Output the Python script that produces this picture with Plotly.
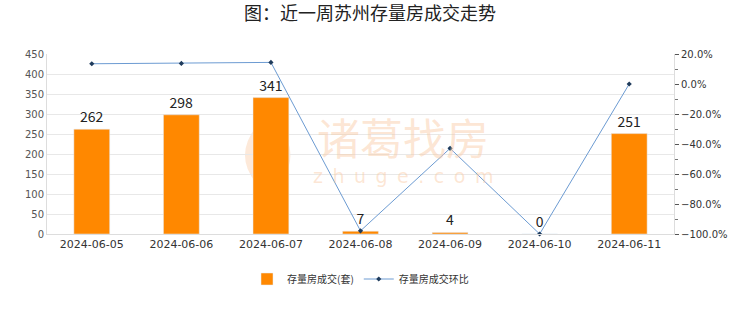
import plotly.graph_objects as go

dates = ["2024-06-05", "2024-06-06", "2024-06-07", "2024-06-08", "2024-06-09", "2024-06-10", "2024-06-11"]
volume = [262, 298, 341, 7, 4, 0, 251]
mom_pct = [13.5, 13.7, 14.4, -97.9, -42.9, -100.0, 0.0]

title_text = "图：近一周苏州存量房成交走势"
bar_name = "存量房成交(套)"
line_name = "存量房成交环比"

font_cjk = "Noto Sans CJK SC, sans-serif"
wm_color = "rgba(250,200,160,0.45)"

fig = go.Figure()
fig.add_trace(go.Bar(
    x=dates, y=volume, name=bar_name,
    marker=dict(color="#FF8800"),
    text=[str(v) for v in volume], textposition="outside",
    textfont=dict(size=14, color="#222222", family=font_cjk),
    cliponaxis=False,
))
fig.add_trace(go.Scatter(
    x=dates, y=mom_pct, name=line_name, yaxis="y2",
    mode="lines+markers",
    line=dict(color="#6C9BD2", width=1),
    marker=dict(symbol="diamond", size=4, color="#1F3B5C"),
    cliponaxis=False,
))

# watermark
fig.add_annotation(text="诸葛找房", x=0.567, y=0.545, xref="paper", yref="paper",
                   showarrow=False, font=dict(size=43, color=wm_color, family=font_cjk))
fig.add_annotation(text="\u2002".join("zhuge.com"), x=0.567, y=0.25, xref="paper", yref="paper",
                   showarrow=False, font=dict(size=19, color=wm_color, family="DejaVu Sans"))
logo_paths = [
    "M 0.345,0.64 Q 0.285,0.43 0.348,0.23 Q 0.312,0.43 0.345,0.64 Z",
    "M 0.359,0.64 Q 0.419,0.43 0.356,0.23 Q 0.392,0.43 0.359,0.64 Z",
    "M 0.352,0.56 Q 0.335,0.40 0.352,0.26 Q 0.369,0.40 0.352,0.56 Z",
]
for p in logo_paths:
    fig.add_shape(type="path", path=p, xref="paper", yref="paper",
                  fillcolor="rgba(250,200,160,0.4)", line=dict(width=0), layer="below")

fig.update_layout(
    width=740, height=312,
    margin=dict(l=47, r=62, t=54, b=78),
    paper_bgcolor="white", plot_bgcolor="white",
    title=dict(text=title_text, x=0.5, xanchor="center", y=0.955, yanchor="middle",
               font=dict(size=18, color="#222222", family=font_cjk)),
    font=dict(family=font_cjk),
    showlegend=True,
    legend=dict(orientation="h", x=0.5, xanchor="center", y=-0.25, yanchor="middle",
                font=dict(size=10, color="#333333", family=font_cjk)),
    bargap=0.6,
    xaxis=dict(type="category", showline=True, linecolor="#DDDDDD", ticks="",
               tickfont=dict(size=11, color="#333333", family="DejaVu Sans"),
               showgrid=False),
    yaxis=dict(range=[0, 450], dtick=50, showline=True, linecolor="#DDDDDD",
               gridcolor="#E8E8E8", tickfont=dict(size=10, color="#555555", family="DejaVu Sans"),
               zeroline=False),
    yaxis2=dict(range=[-100, 20], dtick=20, overlaying="y", side="right", showgrid=False,
                ticks="outside", ticklen=4, tickcolor="#555555", tickformat=".1f", ticksuffix="%",
                minor=dict(dtick=10, ticks="outside", ticklen=3, tickcolor="#777777"),
                tickfont=dict(size=10, color="#333333", family="DejaVu Sans"),
                showline=True, linecolor="#DDDDDD", zeroline=False),
)

fig.write_html("out.html")
